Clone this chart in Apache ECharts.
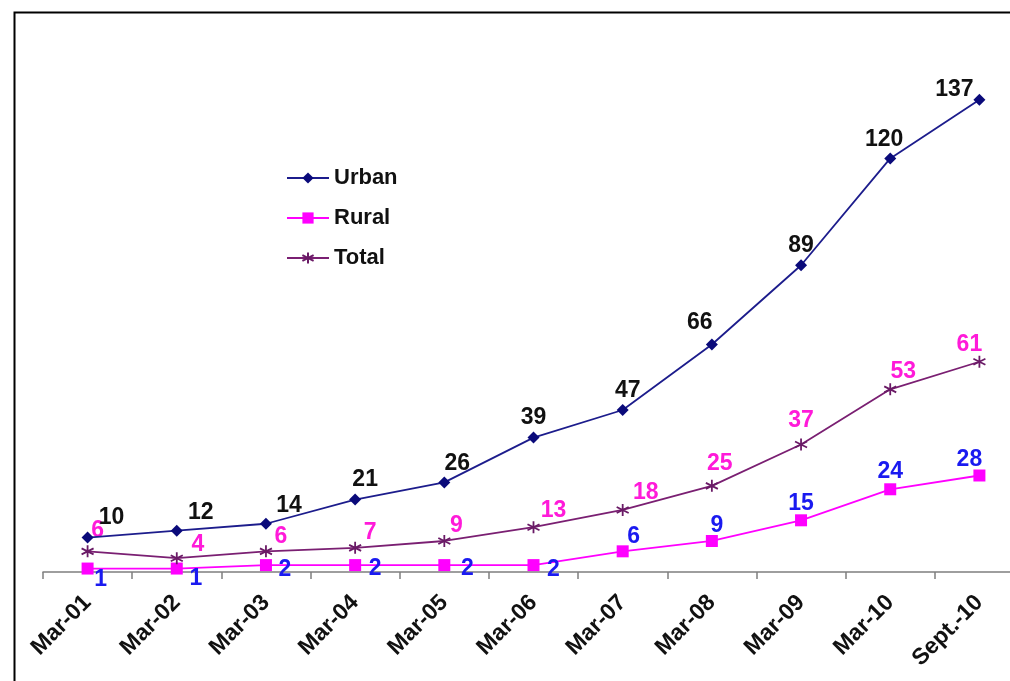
<!DOCTYPE html>
<html>
<head>
<meta charset="utf-8">
<script src="https://cdn.jsdelivr.net/npm/echarts@6/dist/echarts.min.js"></script>
<style>
  html, body { margin: 0; padding: 0; background: #fff; overflow: hidden; }
  #wrap { width: 1010px; height: 681px; overflow: hidden; position: relative; }
  #chart { width: 1030px; height: 681px; position: absolute; left: 0; top: 0; }
</style>
</head>
<body>
<div id="wrap"><div id="chart"></div></div>
<script>
// Period labels along the x axis
const periods = ['Mar-01', 'Mar-02', 'Mar-03', 'Mar-04', 'Mar-05', 'Mar-06', 'Mar-07', 'Mar-08', 'Mar-09', 'Mar-10', 'Sept.-10'];

// Series values
const urban = [10, 12, 14, 21, 26, 39, 47, 66, 89, 120, 137];
const rural = [1, 1, 2, 2, 2, 2, 6, 9, 15, 24, 28];
const total = [6, 4, 6, 7, 9, 13, 18, 25, 37, 53, 61];

// Label nudges (px) so the value labels sit clear of the lines
const urbanLabelShift = [[24,-20],[24,-18],[23,-18],[10,-20],[13,-19],[0,-20],[5,-19],[-12,-22],[0,-20],[-6,-19],[-25,-10]];
const ruralLabelShift = [[13,11],[19,10],[19,5],[20,4],[23,4],[20,5],[11,-15],[5,-15],[0,-17],[0,-18],[-10,-16]];
const totalLabelShift = [[10,-21],[21,-14],[15,-15],[15,-15],[12,-15],[20,-17],[23,-17],[8,-22],[0,-24],[13,-18],[-10,-17]];

// Asterisk-style marker drawn as open strokes
const asterisk = 'path://M0,-6L0,6M-5.2,-3L5.2,3M-5.2,3L5.2,-3';

const FONT = 'Liberation Sans, Arial, sans-serif';

function withLabels(values, shifts, color) {
  return values.map((v, i) => ({
    value: v,
    label: {
      show: true,
      position: 'inside',
      offset: shifts[i],
      color: color,
      fontFamily: FONT,
      fontWeight: 'bold',
      fontSize: 23
    }
  }));
}

const chart = echarts.init(document.getElementById('chart'), null, { renderer: 'canvas' });

chart.setOption({
  animation: false,
  backgroundColor: '#ffffff',
  graphic: [{
    type: 'rect',
    left: 12, top: 10,
    shape: { width: 2000, height: 2000 },
    style: { fill: 'none', stroke: '#000', lineWidth: 2 },
    silent: true,
    z: 100
  }],
  legend: {
    orient: 'vertical',
    left: 281,
    top: 162,
    itemWidth: 42,
    itemHeight: 14,
    itemGap: 18,
    textStyle: {
      fontFamily: FONT,
      fontWeight: 'bold',
      fontSize: 22,
      color: '#111',
      padding: [0, 0, 0, 0]
    },
    data: ['Urban', 'Rural', 'Total']
  },
  grid: { left: 43, width: 981, top: 55, bottom: 109, containLabel: false },
  xAxis: {
    type: 'category',
    data: periods,
    boundaryGap: true,
    axisLine: { show: true, lineStyle: { color: '#7f7f7f', width: 1.5 } },
    axisTick: { show: true, length: 7, lineStyle: { color: '#7f7f7f', width: 1.5 } },
    axisLabel: {
      rotate: 45,
      margin: 27,
      color: '#111',
      fontFamily: FONT,
      fontWeight: 'bold',
      fontSize: 23,
      interval: 0
    }
  },
  yAxis: {
    type: 'value',
    min: 0,
    max: 150,
    show: false,
    splitLine: { show: false }
  },
  series: [
    {
      name: 'Urban',
      type: 'line',
      data: withLabels(urban, urbanLabelShift, '#111'),
      symbol: 'diamond',
      symbolSize: 12,
      lineStyle: { color: '#1c1c8c', width: 1.8 },
      itemStyle: { color: '#0a0a7a' },
      z: 3
    },
    {
      name: 'Rural',
      type: 'line',
      data: withLabels(rural, ruralLabelShift, '#1a1af0'),
      symbol: 'rect',
      symbolSize: 12,
      lineStyle: { color: '#ff00ff', width: 1.8 },
      itemStyle: { color: '#ff00ff' },
      z: 2
    },
    {
      name: 'Total',
      type: 'line',
      data: withLabels(total, totalLabelShift, '#ff1ad9'),
      symbol: asterisk,
      symbolSize: 12,
      lineStyle: { color: '#7a1f72', width: 1.8 },
      itemStyle: { color: 'none', borderColor: '#6a1a66', borderWidth: 1.8 },
      z: 2
    }
  ]
});
</script>
</body>
</html>
